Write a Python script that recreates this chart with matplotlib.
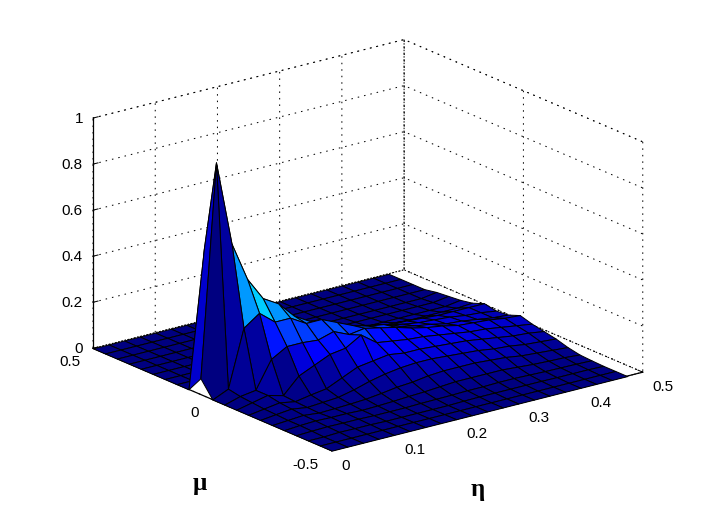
import numpy as np
import matplotlib
matplotlib.use('Agg')
import matplotlib.pyplot as plt
from mpl_toolkits.mplot3d.art3d import Poly3DCollection

eta = [0, .025, .05, .075, .1, .125, .15, .175, .2, .225, .25, .275, .3, .325, .35, .375, .4, .425, .45, .475]
mu = [-.5, -.45, -.4, -.35, -.3, -.25, -.2, -.15, -.1, -.05, 0, .05, .1, .15, .2, .25, .3, .35, .4, .45, .5]

# one row per eta
z_values = [
    [0, 0, 0, 0, 0, 0, 0, 0, 0, 0, 0, .07, 0, 0, 0, 0, 0, 0, 0, 0, 0],
    [0, 0, 0, .003, .005, .005, .008, .01, .015, .02, .03, .99, .60, 0, 0, 0, 0, 0, 0, 0, 0],
    [0, 0, .003, .005, .008, .01, .015, .02, .03, .03, .277, .62, .30, .01, 0, 0, 0, 0, 0, 0, 0],
    [0, 0, .002, .004, .006, .003, .005, .008, .012, .147, .325, .45, .22, .03, 0, 0, 0, 0, 0, 0, 0],
    [0, 0, .002, .004, .006, .005, .01, .02, .08, .186, .27, .35, .2, .04, .005, 0, 0, 0, 0, 0, 0],
    [0, 0, 0, .002, .003, .008, .015, .03, .11, .186, .27, .31, .2, .06, .01, 0, 0, 0, 0, 0, 0],
    [0, 0, 0, .002, .005, .012, .03, .06, .14, .18, .23, .24, .17, .07, .015, 0, 0, 0, 0, 0, 0],
    [0, 0, 0, .002, .008, .02, .05, .09, .15, .2, .23, .2, .14, .07, .02, 0, 0, 0, 0, 0, 0],
    [0, 0, 0, .004, .012, .03, .065, .1, .19, .17, .2, .17, .12, .07, .02, 0, 0, 0, 0, 0, 0],
    [0, 0, 0, .005, .015, .035, .075, .11, .14, .18, .17, .15, .11, .06, .02, 0, 0, 0, 0, 0, 0],
    [0, 0, .002, .006, .02, .045, .08, .10, .13, .165, .15, .13, .095, .05, .015, .005, 0, 0, 0, 0, 0],
    [0, 0, .003, .008, .025, .05, .08, .10, .12, .15, .14, .115, .08, .04, .012, .005, 0, 0, 0, 0, 0],
    [0, 0, .003, .008, .025, .05, .075, .095, .115, .13, .115, .10, .07, .035, .01, .005, 0, 0, 0, 0, 0],
    [0, 0, .003, .01, .025, .05, .07, .09, .105, .115, .10, .085, .06, .03, .01, .005, 0, 0, 0, 0, 0],
    [0, 0, .003, .01, .025, .045, .065, .085, .095, .105, .09, .075, .06, .03, .01, .005, 0, 0, 0, 0, 0],
    [0, 0, .003, .008, .02, .04, .055, .075, .085, .09, .075, .07, .055, .025, .01, .005, 0, 0, 0, 0, 0],
    [0, 0, .002, .006, .015, .03, .05, .065, .08, .085, .07, .065, .05, .025, .01, .005, 0, 0, 0, 0, 0],
    [0, 0, .002, .005, .012, .025, .04, .055, .07, .08, .06, .055, .05, .025, .01, .005, 0, 0, 0, 0, 0],
    [0, 0, .002, .004, .01, .02, .035, .05, .06, .07, .05, .05, .05, .025, .01, .005, 0, 0, 0, 0, 0],
    [0, 0, 0, .002, .005, .015, .03, .04, .05, .065, .045, .04, .05, .03, .02, .015, .01, 0, 0, 0, 0],
]

eta_ticks = [0, .1, .2, .3, .4, .5]
eta_ticklabels = ['0', '0.1', '0.2', '0.3', '0.4', '0.5']
mu_ticks = [-.5, 0, .5]
mu_ticklabels = ['-0.5', '0', '0.5']
z_ticks = [0, .2, .4, .6, .8, 1]
z_ticklabels = ['0', '0.2', '0.4', '0.6', '0.8', '1']

plt.rcParams['font.family'] = ['Liberation Sans', 'DejaVu Sans']
plt.rcParams['font.size'] = 11

X, Y = np.meshgrid(eta, mu, indexing='ij')
Z = np.array(z_values)
colors = plt.cm.jet(Z)

fig = plt.figure(figsize=(7.1, 5.1), dpi=100)
ax = fig.add_axes([6 / 710, 2 / 510, 1, 1], projection='3d', proj_type='ortho', computed_zorder=False)
ax.view_init(elev=19.2, azim=-127.5)
ax.set_box_aspect((1, 1, .622), zoom=1.153)

# far cells first, mplot3d's own depth sort gets the spike wrong
order = 1
for i in range(len(eta) - 2, -1, -1):
    for j in range(len(mu) - 2, -1, -1):
        corners = [(i, j), (i + 1, j), (i + 1, j + 1), (i, j + 1)]
        cell = [(X[c], Y[c], Z[c]) for c in corners]
        poly = Poly3DCollection([cell], facecolors=[colors[i, j]], edgecolors='k', linewidths=.72,
                                antialiaseds=False, zorder=order)
        ax.add_collection3d(poly)
        poly.set_clip_on(False)  # axes box is square here, it cuts the corners off
        order += 1

ax.set_xlim(0, .5, view_margin=0)
ax.set_ylim(-.5, .5, view_margin=0)
ax.set_zlim(0, 1, view_margin=0)
ax.set_xticks(eta_ticks, eta_ticklabels)
ax.set_yticks(mu_ticks, mu_ticklabels)
ax.set_zticks(z_ticks, z_ticklabels)

dots = (0, (1.5, 5))
for axis in (ax.xaxis, ax.yaxis, ax.zaxis):
    axis.set_pane_color((1, 1, 1, 1))
    axis.pane.set_edgecolor('k')
    axis.pane.set_linestyle(dots)
    axis.pane.set_linewidth(.72)
    axis._axinfo['grid'].update(color='k', linestyle=dots, linewidth=.72)
    axis._axinfo['tick'].update(inward_factor=0, outward_factor=.2, linewidth={True: .72, False: .72})
    axis.line.set_color('k')
    axis.line.set_linewidth(.9)
ax.tick_params(axis='x', pad=0)
ax.tick_params(axis='y', pad=0)
ax.tick_params(axis='z', pad=-4.5)
for label in ax.get_xticklabels():
    label.set_ha('left')
    label.set_va('center')
for label in ax.get_yticklabels():
    label.set_ha('right')
    label.set_va('center')
for label in ax.get_zticklabels():
    label.set_ha('right')
    label.set_va('center')

fig.text(200 / 710, 1 - 484 / 510, 'μ', family='Liberation Serif', weight='bold', size=18, ha='center', va='center')
fig.text(478 / 710, 1 - 490 / 510, 'η', family='Liberation Serif', weight='bold', size=18, ha='center', va='center')

fig.savefig('out.png', dpi=100)
